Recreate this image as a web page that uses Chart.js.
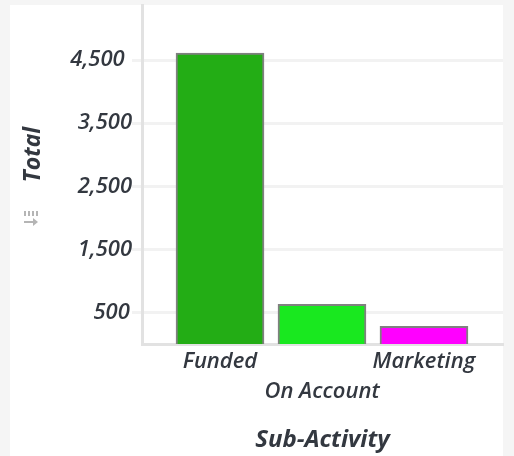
<!DOCTYPE html>
<html>
<head>
<meta charset="utf-8">
<script src="https://cdn.jsdelivr.net/npm/chart.js@4"></script>
<style>
  html, body { margin: 0; padding: 0; background: #f5f5f5; overflow: hidden; }
  #card { position: absolute; left: 10px; top: 5px; width: 493px; height: 451px; background: #fff; }
  #grafico { position: absolute; left: 0; top: 0; }
  #sortIcon { position: absolute; left: 24px; top: 210px; }
</style>
</head>
<body>
<div id="card"></div>
<canvas id="grafico" width="514" height="456"></canvas>
<svg id="sortIcon" width="15" height="18" viewBox="0 0 15 18">
  <g fill="#b5b5b5">
    <rect x="0" y="1" width="2" height="5"/><rect x="4" y="1" width="2" height="5"/>
    <rect x="8" y="1" width="2" height="5"/><rect x="12" y="1" width="2" height="5"/>
    <rect x="0" y="11" width="11" height="2"/>
    <path d="M9 8 L14 12 L9 16 Z"/>
  </g>
</svg>
<script>
const categories = ['Funded', 'On Account', 'Marketing'];
const totals = [4610, 630, 280];
const barColors = ['#23ad15', '#19e81f', '#ff00ff'];
const yTicks = [500, 1500, 2500, 3500, 4500];

const fontFamily = '"Open Sans", sans-serif';
const textColor = '#333840';

new Chart(document.getElementById('grafico').getContext('2d'), {
    type: 'bar',
    data: {
        datasets: [{
            label: 'Total',
            data: categories.map(function (c, i) { return { x: i, y: totals[i] }; }),
            backgroundColor: barColors,
            borderColor: '#808080',
            borderWidth: 2,
            barThickness: 88
        }]
    },
    options: {
        responsive: false,
        animation: false,
        layout: { padding: { top: 5, right: 11, left: 0, bottom: 0 } },
        plugins: { legend: { display: false }, tooltip: { enabled: false } },
        scales: {
            x: {
                type: 'linear',
                offset: false,
                min: -0.765,
                max: 2.775,
                afterBuildTicks: function (scale) {
                    scale.ticks = categories.map(function (c, i) { return { value: i }; });
                },
                afterFit: function (scale) {
                    scale.height = 112;
                    scale.paddingLeft = 0;
                    scale.paddingRight = 0;
                },
                grid: { display: false, drawTicks: false },
                border: { color: '#e2e2e2', width: 3 },
                ticks: {
                    autoSkip: false,
                    maxRotation: 0,
                    padding: 3,
                    color: textColor,
                    font: { family: fontFamily, size: 22, style: 'italic', weight: '600', lineHeight: 1.364 },
                    // second category sits one line lower, like the original
                    callback: function (value) {
                        return value === 1 ? ['', categories[value]] : categories[value];
                    }
                },
                title: {
                    display: true,
                    text: 'Sub-Activity',
                    color: textColor,
                    padding: { top: 0, bottom: 1 },
                    font: { family: fontFamily, size: 24, style: 'italic', weight: '700' }
                }
            },
            y: {
                min: 0,
                max: 5373,
                afterBuildTicks: function (scale) {
                    scale.ticks = yTicks.map(function (v) { return { value: v }; });
                },
                afterFit: function (scale) {
                    scale.width = 142;
                    scale.paddingTop = 0;
                    scale.paddingBottom = 0;
                },
                grid: { color: '#f2f2f2', lineWidth: 3, tickLength: 10 },
                border: { color: '#e2e2e2', width: 3 },
                ticks: {
                    padding: 0,
                    color: textColor,
                    font: { family: fontFamily, size: 22, style: 'italic', weight: '600' },
                    callback: function (value) {
                        const label = value.toLocaleString('en-US');
                        if (value === 4500) return label + '\u2004';
                        return value === 500 ? label + '\u200a' : label;
                    }
                },
                title: {
                    display: true,
                    text: '\u00a0'.repeat(6) + '\u2009Total',
                    color: textColor,
                    padding: { top: 20, bottom: 0 },
                    font: { family: fontFamily, size: 23, style: 'italic', weight: '700' }
                }
            }
        }
    }
});
</script>
</body>
</html>
